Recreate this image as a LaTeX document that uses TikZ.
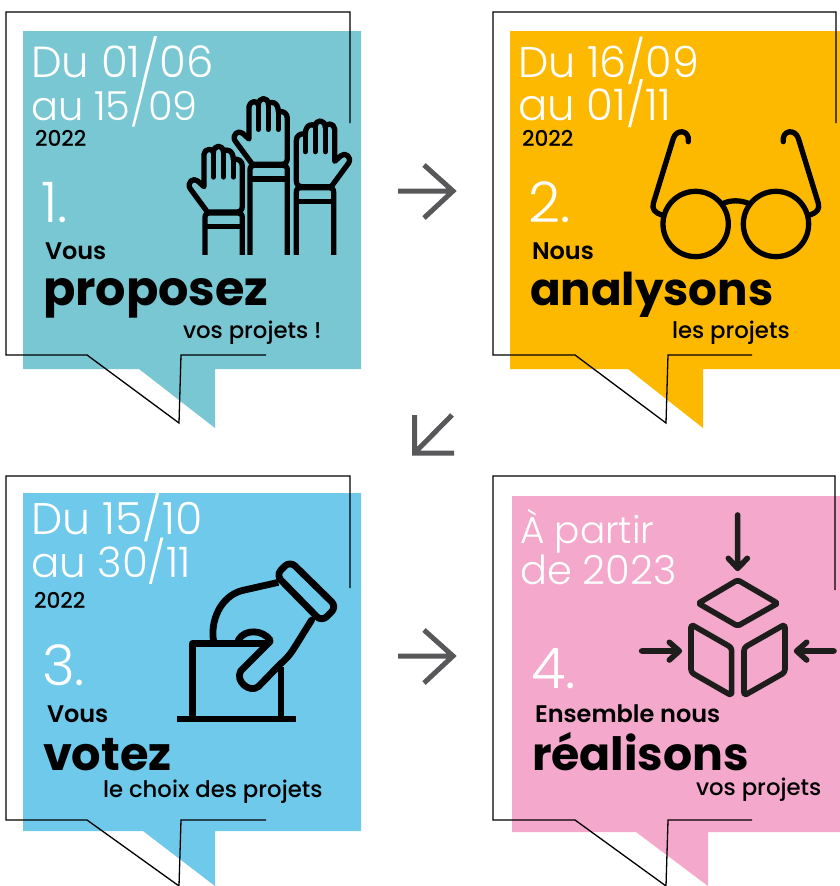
\documentclass[tikz,border=0pt]{standalone}
\usepackage{fontspec}
\setmainfont{Poppins}
\newfontfamily\flight{Poppins Light}
\newfontfamily\fmed{Poppins Medium}
\newfontfamily\fbold{Poppins SemiBold}
\newfontfamily\fheavy{Poppins Bold}
\definecolor{cteal}{HTML}{78C7D3}
\definecolor{cyellow}{HTML}{FDB900}
\definecolor{cblue}{HTML}{6FC9EA}
\definecolor{cpink}{HTML}{F4A8CB}
\definecolor{cgray}{HTML}{58585A}
\definecolor{cink}{HTML}{1D1D1B}
\tikzset{
  outlinepath/.style={draw=black,line width=1.3pt,line join=miter},
  txt/.style={anchor=base west,inner sep=0pt,outer sep=0pt},
  datetxt/.style={txt,text=white,font=\flight\fontsize{#1}{40}\selectfont},
  datetxt/.default=44,
  yeartxt/.style={txt,text=black,font=\fmed\fontsize{21.7}{24}\selectfont},
  numtxt/.style={txt,text=white,font=\flight\fontsize{#1}{50}\selectfont},
  numtxt/.default=56,
  leadtxt/.style={txt,text=black,font=\fbold\fontsize{#1}{24}\selectfont},
  leadtxt/.default=24,
  bigtxt/.style={txt,text=black,font=\fheavy\fontsize{#1}{50}\selectfont},
  tailtxt/.style={txt,text=black,font=\fmed\fontsize{22.8}{24}\selectfont},
  icon/.style={draw=black,line width=5.3pt,line join=round,line cap=round,fill=none},
  flowarrow/.style={draw=cgray,line width=5pt,line join=miter},
}
\newcommand{\handicon}[2]{%
  \begin{scope}[#1]
    \draw[icon] (245,250) -- (195,182) .. controls (185,165) and (205,148) .. (218,160) -- (237,177) -- (237,80)
      .. controls (238,62) and (265,60) .. (265,75)
      .. controls (266,50) and (294,50) .. (295,72)
      .. controls (300,62) and (325,65) .. (325,95)
      .. controls (340,92) and (352,100) .. (352,115) -- (352,235)
      .. controls (352,248) and (345,253) .. (335,253) -- (245,253);
    \draw[icon] (265,75) -- (265,148) (295,72) -- (295,148) (325,95) -- (325,148);
    \draw[icon,line cap=butt] (240,#2) -- (240,270) .. controls (240,260) and (245,256) .. (252,256) -- (340,256) .. controls (347,256) and (352,260) .. (352,270) -- (352,#2);
    \draw[icon,line cap=butt] (240,297) -- (352,297);
  \end{scope}}
\begin{document}
\begin{tikzpicture}[x=1pt,y=-1pt]
\useasboundingbox (0,0) rectangle (840,886);
% panel 1
\fill[cteal] (23,31) -- (361,31) -- (361,369) -- (215,369) -- (215,428) -- (139,369) -- (23,369) -- cycle;
\draw[outlinepath] (350,123) -- (350,12) -- (6,12) -- (6,355) -- (87,355) -- (179,423) -- (181,355) -- (266,355);
% panel 2
\fill[cyellow] (510,31) -- (840,31) -- (840,369) -- (703,369) -- (703,428) -- (628,369) -- (510,369) -- cycle;
\draw[outlinepath] (836,123) -- (836,12) -- (493,12) -- (493,355) -- (575,355) -- (666,423) -- (668,355) -- (752,355);
% panel 3
\fill[cblue] (23,493) -- (361,493) -- (361,831) -- (215,831) -- (215,886) -- (143,831) -- (23,831) -- cycle;
\draw[outlinepath] (350,588) -- (350,476) -- (6,476) -- (6,820) -- (87,820) -- (179,886) -- (181,820) -- (266,820);
% panel 4
\fill[cpink] (512,496) -- (840,496) -- (840,832) -- (708,832) -- (708,886) -- (636,832) -- (512,832) -- cycle;
\draw[outlinepath] (835,590) -- (835,476) -- (493,476) -- (493,820) -- (575,820) -- (666,886) -- (668,820) -- (752,820);
% flow arrows
\coordinate (a1s) at (398,191); \coordinate (a1e) at (453,191);
\coordinate (a1u) at (424,165); \coordinate (a1d) at (424,218);
\draw[flowarrow] (a1s) -- (a1e) (a1u) -- (a1e) -- (a1d);
\coordinate (a2s) at (452,415); \coordinate (a2e) at (414.5,453);
\coordinate (a2u) at (414.5,415); \coordinate (a2d) at (454,453);
\draw[flowarrow] (a2s) -- (a2e) (a2u) -- (a2e) -- (a2d);
\coordinate (a3s) at (398,656); \coordinate (a3e) at (453,656);
\coordinate (a3u) at (424,630); \coordinate (a3d) at (424,683);
\draw[flowarrow] (a3s) -- (a3e) (a3u) -- (a3e) -- (a3d);
% texts 1
\node[datetxt=43.5] (d1a) at (31,77) {Du 01/06};
\node[datetxt=40] (d1b) at (31,120) {au 15/09};
\node[yeartxt] (y1) at (35,146) {2022};
\node[numtxt] (n1) at (41,222) {1.};
\node[leadtxt] (l1) at (45,259) {Vous};
\node[bigtxt=47.7] (b1) at (43,305) {proposez};
\node[tailtxt] (t1) at (183,338) {vos projets !};
% texts 2
\node[datetxt=43] (d2a) at (518,77) {Du 16/09};
\node[datetxt=43.5] (d2b) at (518,120) {au 01/11};
\node[yeartxt] (y2) at (522,146) {2022};
\node[numtxt] (n2) at (528,222) {2.};
\node[leadtxt] (l2) at (532,259) {Nous};
\node[bigtxt=45.2] (b2) at (530,305) {analysons};
\node[tailtxt] (t2) at (672,338) {les projets};
% texts 3
\node[datetxt=44.3] (d3a) at (31,534) {Du 15/10};
\node[datetxt=42] (d3b) at (31,577) {au 30/11};
\node[yeartxt] (y3) at (34,608) {2022};
\node[numtxt] (n3) at (42,685) {3.};
\node[leadtxt] (l3) at (47,722) {Vous};
\node[bigtxt=46.3] (b3) at (43,770) {votez};
\node[tailtxt] (t3) at (103,797) {le choix des projets};
% texts 4
\node[datetxt=37.5] (d4a) at (520,543) {À partir};
\node[datetxt=40] (d4b) at (520,584) {de 2023};
\node[numtxt] (n4) at (531,688) {4.};
\node[leadtxt] (l4) at (535,722) {Ensemble nous};
\node[bigtxt=45.8] (b4) at (532,770) {réalisons};
\node[tailtxt] (t4) at (696,795) {vos projets};
% hands
\begin{scope}[shift={(170,80)},x=0.3333pt,y=-0.3333pt]
  \handicon{shift={(0,0)}}{525}
  \handicon{shift={(-135,143)}}{382}
  \handicon{xscale=-1,shift={(-731,67)}}{458}
\end{scope}
% glasses
\begin{scope}[shift={(640,120)},x=0.3333pt,y=-0.3333pt]
  \draw[icon] (167,312) circle[radius=98];
  \draw[icon] (408,312) circle[radius=98];
  \draw[icon] (250,250) .. controls (272,240) and (300,240) .. (325,250);
  \draw[icon] (65,285) .. controls (45,278) and (35,268) .. (40,250) -- (100,55) .. controls (110,25) and (150,30) .. (145,65);
  \draw[icon] (510,285) .. controls (530,278) and (540,268) .. (535,250) -- (475,55) .. controls (465,25) and (425,30) .. (430,65);
\end{scope}
% ballot
\begin{scope}[shift={(170,545)},x=0.3333pt,y=-0.3333pt]
  \tikzset{ballot/.style={icon,line width=6.8pt}}
  \draw[ballot,line cap=butt] (67,515) -- (67,296) -- (300,296);
  \draw[ballot,line cap=butt] (333,365) -- (333,515);
  \draw[ballot,line cap=butt] (22,522) -- (377,522);
  \draw[ballot,line cap=butt] (131,290) .. controls (120,230) and (150,155) .. (215,137) -- (325,112);
  \draw[ballot,rounded corners=7pt] (360,48) -- (500,185) -- (455,230) -- (318,90) -- cycle;
  \draw[ballot] (425,225) -- (372,310) .. controls (360,330) and (345,345) .. (330,358) -- (265,425) .. controls (240,445) and (195,410) .. (212,378) -- (300,290);
  \draw[ballot] (205,285) .. controls (225,250) and (280,255) .. (300,285);
\end{scope}
% cube
\begin{scope}[shift={(630,505)},x=0.3333pt,y=-0.3333pt]
  \tikzset{cubeline/.style={draw=cink,line width=5.6pt,line join=round,line cap=round}}
  \draw[cubeline] (323,30) -- (323,190) (295,160) -- (323,190) -- (352,160);
  \draw[cubeline,rounded corners=2pt] (323,225) -- (443,295) -- (323,363) -- (205,295) -- cycle;
  \draw[cubeline,rounded corners=3pt] (183,358) -- (305,428) -- (305,572) -- (183,502) -- cycle;
  \draw[cubeline,rounded corners=3pt] (465,358) -- (342,428) -- (342,572) -- (465,502) -- cycle;
  \draw[cubeline] (35,438) -- (145,438) (118,412) -- (148,438) -- (118,465);
  \draw[cubeline] (612,438) -- (500,438) (530,412) -- (500,438) -- (530,465);
\end{scope}
\end{tikzpicture}
\end{document}
